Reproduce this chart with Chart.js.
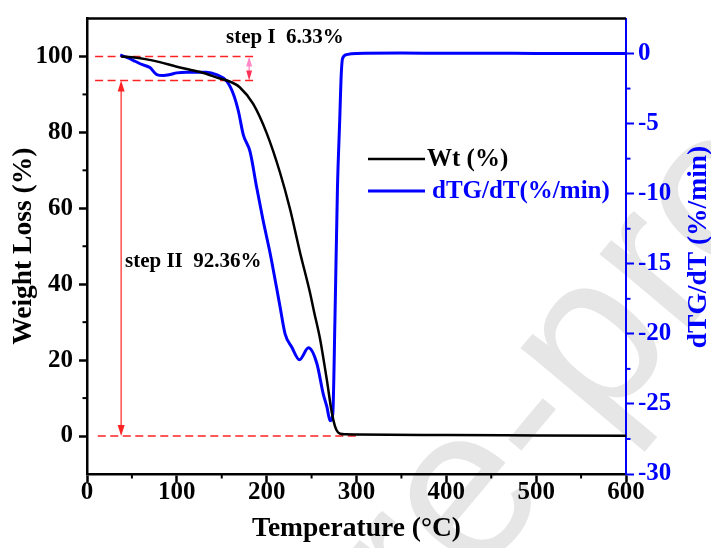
<!DOCTYPE html>
<html>
<head>
<meta charset="utf-8">
<script src="https://cdn.jsdelivr.net/npm/chart.js@4.4.1/dist/chart.umd.min.js"></script>
<style>
  html, body { margin: 0; padding: 0; background: #fff; }
  #wrap { width: 711px; height: 548px; }
</style>
</head>
<body>
<div id="wrap"><canvas id="tga" width="711" height="548"></canvas></div>
<script>
// 失重曲线 Wt (%)
const wtTemp = [38, 50, 65, 81, 100, 126, 148, 160, 170, 185, 200, 215, 226, 237, 248, 253, 259.5, 264, 267, 272.5, 276, 279, 282, 288, 300, 400, 500, 600];
const wtVal  = [100, 99.8, 99.3, 98.5, 97.3, 95.9, 94.2, 93.3, 91.9, 87.5, 79.8, 69.3, 59.8, 48.5, 38.0, 32.5, 25.5, 19.2, 14.8, 6.2, 2.6, 1.1, 0.6, 0.45, 0.4, 0.25, 0.15, 0.05];

// 微分曲线 dTG/dT (%/min)
const dtgTemp = [37, 45, 53.5, 61, 70, 77.6, 85, 92.5, 100, 111, 133, 144, 155.5, 163, 168.5, 174, 181.5, 189, 196, 204, 211, 215, 220.5, 228, 236.5, 246.5, 255.8, 263, 267, 270.6, 273.6, 276, 278.8, 281.3, 283, 284.5, 289, 300, 350, 400, 450, 500, 550, 600];
const dtgVal  = [-0.1, -0.3, -0.55, -0.78, -1.0, -1.5, -1.57, -1.5, -1.38, -1.33, -1.33, -1.5, -1.97, -2.9, -4.1, -5.8, -7.0, -9.6, -11.9, -14.3, -16.7, -18.1, -20.0, -20.96, -21.85, -21.0, -22.1, -24.3, -25.2, -26.2, -25.7, -19.0, -9.6, -4.8, -1.5, -0.35, -0.08, 0.0, 0.03, 0.02, 0.02, 0.01, 0.01, 0.0];

// 刻度
const xTicks = [0, 100, 200, 300, 400, 500, 600];
const xMinor = [50, 150, 250, 350, 450, 550];
const wtTicks = [0, 20, 40, 60, 80, 100];
const wtMinor = [10, 30, 50, 70, 90];
const dtgTicks = [-30, -25, -20, -15, -10, -5, 0];
const dtgMinor = [-27.5, -22.5, -17.5, -12.5, -7.5, -2.5];

// 台阶标注 (失重百分比)
const stepNames = ['step I  6.33%', 'step II  92.36%'];
const stepLevels = [100, 93.67, 0];

const SERIF = '"Liberation Serif", "Times New Roman", serif';
const BLUE = '#0000ff';
const RED = '#ff2222';

function toXY(xs, ys) {
  return xs.map((x, i) => ({ x: x, y: ys[i] }));
}

// --- 水印 ---
const watermark = {
  id: 'watermark',
  beforeDraw(chart) {
    const ctx = chart.ctx;
    ctx.save();
    ctx.font = '220px "Liberation Sans", Arial, sans-serif';
    ctx.fillStyle = '#e6e6e6';
    ctx.translate(470, 500);
    ctx.rotate(-50 * Math.PI / 180);
    const pr = ctx.measureText('pr').width;
    const e = ctx.measureText('e').width;
    ctx.fillText('pre-proof', -(pr + e / 2), 0.26 * 220);
    ctx.restore();
  }
};

function arrowHead(ctx, x, y, dir, len, half) {
  ctx.beginPath();
  ctx.moveTo(x, y);
  ctx.lineTo(x - half, y - dir * len);
  ctx.lineTo(x + half, y - dir * len);
  ctx.closePath();
  ctx.fill();
}

// --- 红色虚线和箭头 ---
const steps = {
  id: 'steps',
  beforeDatasetsDraw(chart) {
    const ctx = chart.ctx;
    const sx = chart.scales.x, sy = chart.scales.y;
    ctx.save();
    ctx.strokeStyle = RED;
    ctx.lineWidth = 1.6;
    ctx.setLineDash([8, 4.5]);
    const hline = (v, a, b) => {
      ctx.beginPath();
      ctx.moveTo(sx.getPixelForValue(a), sy.getPixelForValue(v));
      ctx.lineTo(sx.getPixelForValue(b), sy.getPixelForValue(v));
      ctx.stroke();
    };
    hline(stepLevels[0], 9, 185.5);
    hline(stepLevels[1], 9, 185.5);
    hline(stepLevels[2], 12, 301);
    ctx.setLineDash([]);

    // step II 双向箭头
    const ax = sx.getPixelForValue(38);
    const y1 = sy.getPixelForValue(stepLevels[1]);
    const y2 = sy.getPixelForValue(stepLevels[2]);
    ctx.lineWidth = 1.2;
    ctx.fillStyle = RED;
    ctx.beginPath();
    ctx.moveTo(ax, y1 + 10);
    ctx.lineTo(ax, y2 - 10);
    ctx.stroke();
    arrowHead(ctx, ax, y1, -1, 11, 3.5);
    arrowHead(ctx, ax, y2, 1, 11, 3.5);

    // step I 小箭头
    const bx = sx.getPixelForValue(180.5);
    const b1 = sy.getPixelForValue(stepLevels[0]);
    ctx.strokeStyle = '#ff80c0';
    ctx.beginPath();
    ctx.moveTo(bx, b1 + 4);
    ctx.lineTo(bx, y1 - 4);
    ctx.stroke();
    ctx.fillStyle = '#ff88c8';
    arrowHead(ctx, bx, b1, -1, 10, 3);
    ctx.fillStyle = '#ff3355';
    arrowHead(ctx, bx, y1, 1, 10, 3);
    ctx.restore();
  }
};

// --- 边框、副刻度、图例、文字 ---
const decor = {
  id: 'decor',
  afterDraw(chart) {
    const ctx = chart.ctx;
    const a = chart.chartArea;
    const sx = chart.scales.x, sy = chart.scales.y, sy2 = chart.scales.y2;
    ctx.save();

    // 顶部边框
    ctx.strokeStyle = '#000';
    ctx.lineWidth = 2.5;
    ctx.beginPath();
    ctx.moveTo(a.left, a.top);
    ctx.lineTo(a.right, a.top);
    ctx.stroke();

    // 副刻度
    ctx.lineWidth = 2;
    xMinor.forEach(v => {
      const px = sx.getPixelForValue(v);
      ctx.beginPath(); ctx.moveTo(px, a.bottom); ctx.lineTo(px, a.bottom + 4.5); ctx.stroke();
    });
    wtMinor.forEach(v => {
      const py = sy.getPixelForValue(v);
      ctx.beginPath(); ctx.moveTo(a.left, py); ctx.lineTo(a.left - 4.5, py); ctx.stroke();
    });
    ctx.strokeStyle = BLUE;
    dtgMinor.forEach(v => {
      const py = sy2.getPixelForValue(v);
      ctx.beginPath(); ctx.moveTo(a.right, py); ctx.lineTo(a.right + 4.5, py); ctx.stroke();
    });

    // 图例
    ctx.textBaseline = 'middle';
    ctx.textAlign = 'left';
    ctx.font = 'bold 25px ' + SERIF;
    ctx.lineWidth = 2.5;
    ctx.strokeStyle = '#000';
    ctx.beginPath(); ctx.moveTo(368, 159); ctx.lineTo(425, 159); ctx.stroke();
    ctx.fillStyle = '#000';
    ctx.fillText(chart.data.datasets[0].label, 427, 160);
    ctx.strokeStyle = BLUE;
    ctx.lineWidth = 3;
    ctx.beginPath(); ctx.moveTo(368, 191); ctx.lineTo(425, 191); ctx.stroke();
    ctx.fillStyle = BLUE;
    ctx.fillText(chart.data.datasets[1].label, 432, 192);

    // 台阶文字
    ctx.textBaseline = 'alphabetic';
    ctx.fillStyle = '#000';
    ctx.font = 'bold 21px ' + SERIF;
    ctx.fillText(stepNames[0], 226, 43);
    ctx.fillText(stepNames[1], 125, 267);

    // 右侧标题
    ctx.translate(699, 247);
    ctx.rotate(-Math.PI / 2);
    ctx.textAlign = 'center';
    ctx.textBaseline = 'middle';
    ctx.fillStyle = BLUE;
    ctx.font = 'bold 27.5px ' + SERIF;
    ctx.fillText('dTG/dT (%/min)', 0, 0);
    ctx.restore();
  }
};

const tickFont = { family: SERIF, size: 25, weight: 'bold', lineHeight: 1 };
const titleFont = { family: SERIF, size: 27.5, weight: 'bold', lineHeight: 1 };

new Chart(document.getElementById('tga'), {
  type: 'line',
  data: {
    datasets: [
      {
        label: 'Wt (%)',
        data: toXY(wtTemp, wtVal),
        borderColor: '#000',
        borderWidth: 2.5,
        pointRadius: 0,
        cubicInterpolationMode: 'monotone',
        yAxisID: 'y'
      },
      {
        label: 'dTG/dT(%/min)',
        data: toXY(dtgTemp, dtgVal),
        borderColor: BLUE,
        borderWidth: 3,
        pointRadius: 0,
        cubicInterpolationMode: 'monotone',
        yAxisID: 'y2'
      }
    ]
  },
  options: {
    responsive: false,
    animation: false,
    layout: { padding: { top: 18, left: 0, right: 0, bottom: 0 } },
    plugins: { legend: { display: false }, tooltip: { enabled: false } },
    scales: {
      x: {
        type: 'linear',
        min: 0,
        max: 600,
        afterBuildTicks: s => { s.ticks = xTicks.map(v => ({ value: v })); },
        afterFit: s => { s.height = 74; },
        ticks: { font: tickFont, color: '#000', padding: -2, maxRotation: 0 },
        grid: { drawOnChartArea: false, drawTicks: true, tickLength: 8, tickWidth: 2.5, tickColor: '#000' },
        border: { display: true, color: '#000', width: 2.5 },
        title: { display: true, text: 'Temperature (°C)', font: titleFont, color: '#000', padding: { top: 0, bottom: 5 } }
      },
      y: {
        position: 'left',
        min: -10,
        max: 110,
        afterBuildTicks: s => { s.ticks = wtTicks.map(v => ({ value: v })); },
        afterFit: s => { s.width = 87; },
        ticks: { font: tickFont, color: '#000', padding: 6 },
        grid: { drawOnChartArea: false, drawTicks: true, tickLength: 8, tickWidth: 2.5, tickColor: '#000' },
        border: { display: true, color: '#000', width: 2.5 },
        title: { display: true, text: 'Weight Loss (%)', font: titleFont, color: '#000', padding: { top: 10, bottom: 0 } }
      },
      y2: {
        position: 'right',
        min: -30,
        max: 2.5,
        afterBuildTicks: s => { s.ticks = dtgTicks.map(v => ({ value: v })); },
        afterFit: s => { s.width = 85; },
        ticks: { font: tickFont, color: BLUE, padding: 4 },
        grid: { drawOnChartArea: false, drawTicks: true, tickLength: 8, tickWidth: 2, tickColor: BLUE },
        border: { display: true, color: BLUE, width: 2 }
      }
    }
  },
  plugins: [watermark, steps, decor]
});
</script>
</body>
</html>
